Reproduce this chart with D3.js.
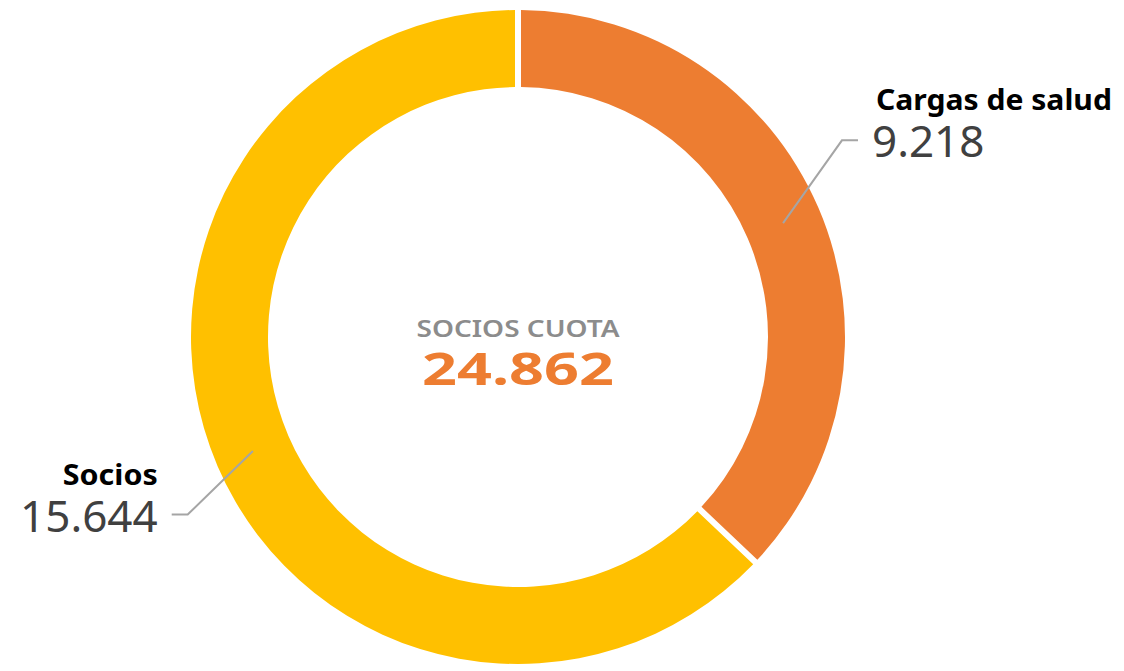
<!DOCTYPE html>
<html>
<head>
<meta charset="utf-8">
<script src="https://cdn.jsdelivr.net/npm/d3@7"></script>
<style>
  html, body { margin: 0; padding: 0; background: #fff; }
  svg text { font-family: "Noto Sans", "Open Sans", sans-serif; }
</style>
</head>
<body>
<div id="chart"></div>
<script>
// Data
var categories = ["Cargas de salud", "Socios"];
var values = [9218, 15644];
var colors = ["#ED7D31", "#FFC000"];
var centerTitle = "SOCIOS CUOTA";

// format with dot as thousands separator
var locale = d3.formatLocale({decimal: ",", thousands: ".", grouping: [3], currency: ["", ""]});
var fmt = locale.format(",d");

var data = categories.map(function(c, i) { return {name: c, value: values[i], color: colors[i]}; });
var total = d3.sum(values);

// Size
var width = 1124;
var height = 671;
var cx = 518, cy = 337;
var outerR = 327, innerR = 250;

var svg = d3.select("#chart").append("svg")
  .attr("width", width)
  .attr("height", height);

var g = svg.append("g").attr("transform", "translate(" + cx + "," + cy + ")");

var pie = d3.pie().sort(null).value(function(d) { return d.value; });
var arc = d3.arc().innerRadius(innerR).outerRadius(outerR).padAngle(0.02).padRadius(300);
var mid = d3.arc().innerRadius((innerR + outerR) / 2).outerRadius((innerR + outerR) / 2);

var arcs = pie(data);

g.selectAll("path.slice")
  .data(arcs)
  .enter().append("path")
  .attr("class", "slice")
  .attr("d", arc)
  .attr("fill", function(d) { return d.data.color; });

// label layout: elbow radius, angle shift, side, name width
var labelLayout = [
  {r: 379, shift: -8, side: 1, nameW: 236},
  {r: 375, shift: -5, side: -1, nameW: 95}
];

arcs.forEach(function(d, i) {
  var L = labelLayout[i];
  var p0 = mid.centroid(d);
  var a = (d.startAngle + d.endAngle) / 2 + L.shift * Math.PI / 180;
  var p1 = [L.r * Math.sin(a), -L.r * Math.cos(a)];
  var p2 = [p1[0] + L.side * 16, p1[1]];

  g.append("polyline")
    .attr("points", [p0, p1, p2].map(function(p) { return p.join(","); }).join(" "))
    .attr("fill", "none")
    .attr("stroke", "#A5A5A5")
    .attr("stroke-width", 2);

  var tx = p2[0] + L.side * 14;
  var anchor = L.side > 0 ? "start" : "end";

  g.append("text")
    .attr("x", L.side > 0 ? tx + 4 : tx)
    .attr("y", p1[1] - 30)
    .attr("text-anchor", anchor)
    .attr("font-size", 28)
    .attr("font-weight", "bold")
    .attr("fill", "#000")
    .attr("textLength", L.nameW)
    .attr("lengthAdjust", "spacingAndGlyphs")
    .text(d.data.name);

  g.append("text")
    .attr("x", tx)
    .attr("y", p1[1] + 17)
    .attr("text-anchor", anchor)
    .attr("font-size", 44)
    .attr("fill", "#404040")
    .text(fmt(d.data.value));
});

// center text
g.append("text")
  .attr("x", 0)
  .attr("y", 0)
  .attr("text-anchor", "middle")
  .attr("font-size", 24)
  .attr("font-weight", 600)
  .attr("fill", "#8C8C8C")
  .attr("textLength", 203)
  .attr("lengthAdjust", "spacingAndGlyphs")
  .text(centerTitle);

g.append("text")
  .attr("x", 0)
  .attr("y", 48)
  .attr("text-anchor", "middle")
  .attr("font-family", "DejaVu Sans, sans-serif")
  .attr("font-size", 44)
  .attr("font-weight", "bold")
  .attr("fill", "#ED7D31")
  .attr("textLength", 192)
  .attr("lengthAdjust", "spacingAndGlyphs")
  .text(fmt(total));
</script>
</body>
</html>
